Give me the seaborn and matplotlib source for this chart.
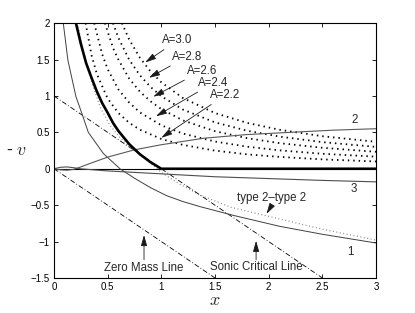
import matplotlib
matplotlib.use("Agg")
import matplotlib.pyplot as plt
import seaborn as sns
import pandas as pd

# ---------------- data ----------------
thick_x = [0.205, 0.25, 0.30, 0.35, 0.40, 0.45, 0.50, 0.55, 0.60, 0.70, 0.80, 0.90, 1.0, 3.0]
thick_y = [2.0, 1.72, 1.45, 1.25, 1.06, 0.90, 0.77, 0.63, 0.52, 0.34, 0.20, 0.09, 0.0, 0.0]

c1_x = [0.087, 0.13, 0.205, 0.26, 0.32, 0.46, 0.615, 0.75, 0.90, 1.05, 1.20, 1.36, 1.67, 2.10, 2.50, 3.0]
c1_y = [2.0, 1.49, 0.99, 0.76, 0.50, 0.21, 0.0, -0.13, -0.26, -0.37, -0.45, -0.52, -0.64, -0.79, -0.90, -1.02]

c2_x = [0.0, 0.06, 0.12, 0.18, 0.24, 0.35, 0.50, 0.75, 1.0, 1.4, 1.8, 2.2, 2.6, 3.0]
c2_y = [0.0, -0.015, -0.02, -0.01, 0.02, 0.08, 0.16, 0.26, 0.33, 0.42, 0.47, 0.50, 0.53, 0.55]

c3_x = [0.0, 0.06, 0.12, 0.18, 0.24, 0.50, 1.0, 1.5, 2.0, 2.5, 3.0]
c3_y = [0.0, 0.02, 0.025, 0.015, 0.0, -0.03, -0.07, -0.11, -0.135, -0.16, -0.18]

t22_x = [0.22, 0.26, 0.30, 0.36, 0.43, 0.52, 0.62, 0.72, 0.80, 0.90, 1.0, 1.17, 1.36, 1.65, 2.075, 2.5, 3.0]
t22_y = [2.0, 1.70, 1.45, 1.15, 0.85, 0.60, 0.42, 0.29, 0.20, 0.08, -0.05, -0.21, -0.36, -0.53, -0.68, -0.83, -0.98]

zero_x = [0.0, 1.0]
zero_y = [0.0, 0.0]

sonic_x = [0.0, 2.5]
sonic_y = [1.0, -1.5]

zmass_x = [0.0, 1.5]
zmass_y = [0.0, -1.5]

a22_x = [0.295, 0.35, 0.40, 0.50, 0.60, 0.70, 0.80, 1.0, 1.2, 1.5, 1.8, 2.1, 2.5, 3.0]
a22_y = [2.00, 1.56, 1.30, 0.965, 0.766, 0.632, 0.537, 0.409, 0.328, 0.249, 0.198, 0.163, 0.129, 0.100]
a24_x = [0.375, 0.45, 0.50, 0.60, 0.70, 0.80, 1.0, 1.2, 1.5, 1.8, 2.1, 2.5, 3.0]
a24_y = [2.00, 1.57, 1.37, 1.09, 0.91, 0.775, 0.597, 0.484, 0.374, 0.303, 0.253, 0.206, 0.166]
a26_x = [0.475, 0.55, 0.60, 0.70, 0.80, 0.90, 1.0, 1.2, 1.5, 1.8, 2.1, 2.5, 3.0]
a26_y = [2.00, 1.66, 1.50, 1.24, 1.06, 0.926, 0.82, 0.665, 0.516, 0.42, 0.352, 0.288, 0.233]
a28_x = [0.55, 0.60, 0.70, 0.80, 0.90, 1.0, 1.2, 1.5, 1.8, 2.1, 2.5, 3.0]
a28_y = [2.00, 1.80, 1.50, 1.285, 1.123, 0.997, 0.814, 0.637, 0.522, 0.442, 0.366, 0.300]
a30_x = [0.633, 0.70, 0.80, 0.90, 1.0, 1.2, 1.5, 1.8, 2.1, 2.5, 3.0]
a30_y = [2.00, 1.778, 1.526, 1.336, 1.188, 0.973, 0.765, 0.630, 0.536, 0.447, 0.370]

a_labels = ["A=3.0", "A=2.8", "A=2.6", "A=2.4", "A=2.2"]
a_text_xy = [(1.01, 1.765), (1.10, 1.54), (1.236, 1.345), (1.345, 1.18), (1.454, 1.01)]
a_tip_xy = [(0.85, 1.46), (0.885, 1.25), (0.925, 0.99), (0.95, 0.72), (1.0, 0.425)]

x_ticks = [0, 0.5, 1, 1.5, 2, 2.5, 3]
x_tick_labels = ["0", "0.5", "1", "1.5", "2", "2.5", "3"]
y_ticks = [-1.5, -1, -0.5, 0, 0.5, 1, 1.5, 2]
y_tick_labels = ["\u22121.5", "\u22121", "\u22120.5", "0", "0.5", "1", "1.5", "2"]

# ---------------- style ----------------
sns.set_theme(style="white")
plt.rcParams["font.family"] = ["Liberation Sans", "DejaVu Sans"]
plt.rcParams["mathtext.fontset"] = "cm"

fig = plt.figure(figsize=(4.15, 3.13), dpi=100)
ax = fig.add_axes([0.130, 0.112, 0.776, 0.814])


def draw(xs, ys, **kw):
    df = pd.DataFrame({"x": xs, "y": ys})
    sns.lineplot(data=df, x="x", y="y", ax=ax, sort=False, estimator=None, **kw)


# A curves (dotted black)
for xs, ys in [(a22_x, a22_y), (a24_x, a24_y), (a26_x, a26_y), (a28_x, a28_y), (a30_x, a30_y)]:
    draw(xs, ys, color="black", linewidth=1.3, linestyle=(0, (0.8, 2.2)))

# type 2 - type 2 (light dotted)
draw(t22_x, t22_y, color="0.55", linewidth=0.9, linestyle=(0, (0.8, 2.0)))

# dash-dot lines
draw(sonic_x, sonic_y, color="black", linewidth=0.6, linestyle=(0, (6, 2.5, 1, 2.5)))
draw(zmass_x, zmass_y, color="black", linewidth=0.6, linestyle=(0, (6, 2.5, 1, 2.5)))

# thin solid curves
draw(zero_x, zero_y, color="black", linewidth=0.8)
draw(c1_x, c1_y, color="0.25", linewidth=0.7)
draw(c2_x, c2_y, color="0.35", linewidth=0.8)
draw(c3_x, c3_y, color="0.3", linewidth=0.8)

# thick curve
draw(thick_x, thick_y, color="black", linewidth=1.9)

# ---------------- annotations ----------------
ann_fs = 8.3
arrow_kw = dict(arrowstyle="-|>,head_length=0.6,head_width=0.17", color="0.1", lw=0.6,
                mutation_scale=11, shrinkA=0, shrinkB=0)
for lab, txy, tip in zip(a_labels, a_text_xy, a_tip_xy):
    ax.annotate(lab, xy=tip, xytext=txy, fontsize=ann_fs, ha="left", va="center",
                arrowprops=arrow_kw)

ax.text(2.805, 0.668, "2", fontsize=ann_fs, ha="center", va="center")
ax.text(2.79, -0.28, "3", fontsize=ann_fs, ha="center", va="center")
ax.text(2.76, -1.15, "1", fontsize=ann_fs, ha="center", va="center")

ax.annotate("", xy=(1.98, -0.62), xytext=(2.03, -0.50), arrowprops=arrow_kw)
ax.text(2.03, -0.406, "type 2\u2013type 2", fontsize=ann_fs, ha="center", va="center")

ax.annotate("", xy=(0.839, -0.91), xytext=(0.839, -1.25), arrowprops=arrow_kw)
ax.text(0.837, -1.366, "Zero Mass Line", fontsize=ann_fs, ha="center", va="center")

ax.annotate("", xy=(1.883, -0.99), xytext=(1.883, -1.25), arrowprops=arrow_kw)
ax.text(1.883, -1.344, "Sonic Critical Line", fontsize=ann_fs, ha="center", va="center")

# ---------------- axes ----------------
ax.set_xlim(0, 3)
ax.set_ylim(-1.5, 2)
ax.set_xticks(x_ticks)
ax.set_xticklabels(x_tick_labels)
ax.set_yticks(y_ticks)
ax.set_yticklabels(y_tick_labels)
ax.tick_params(direction="in", length=3, width=0.6, labelsize=7, top=True, right=True,
               bottom=True, left=True, pad=3, colors="black")
for s in ax.spines.values():
    s.set_visible(True)
    s.set_color("black")
    s.set_linewidth(0.8)

ax.set_xlabel(r"$x$", fontsize=13, labelpad=0)
ax.set_ylabel(r"- $v$", fontsize=13, rotation=0, labelpad=10, va="center")

fig.savefig("out.png", dpi=100, facecolor="white")
